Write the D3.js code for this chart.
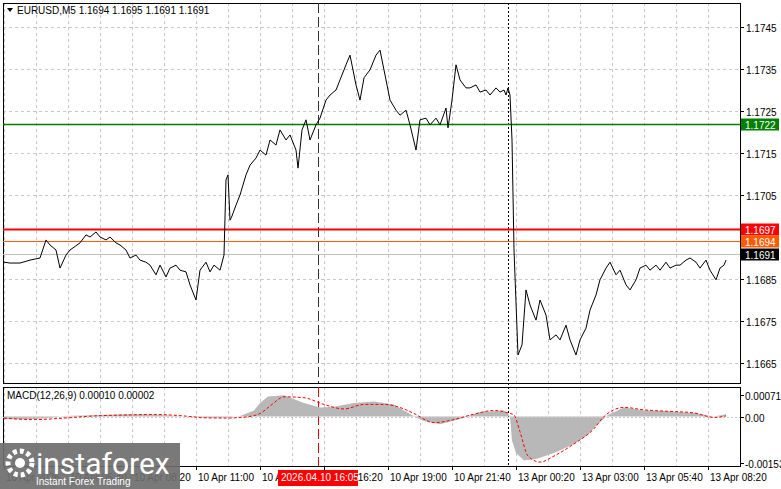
<!doctype html>
<html>
<head>
<meta charset="utf-8">
<script src="https://cdn.jsdelivr.net/npm/d3@7"></script>
<style>
  body { margin: 0; background: #fff; }
  svg text { font-family: "Liberation Sans", Arial, sans-serif; font-size: 10px; }
</style>
</head>
<body>
<svg id="chart" width="781" height="489"></svg>
<script>
// price path: bar index (5-min bars, 2px each) and price
var priceBars = [0,3,8,13,18,21,23,26,28,31,33,38,41,43,46,48,51,53,56,58,61,63,66,68,71,73,76,78,81,83,86,88,91,93,96,98,101,103,105,108,110,111,112,113,114,116,118,121,123,126,128,131,133,136,138,141,143,146,147,149,151,153,156,158,161,163,166,168,171,173,176,178,180,183,186,188,191,193,196,198,201,203,206,208,211,213,216,218,221,222,224,226,228,231,233,236,238,241,243,246,248,250,251,252,253,254,255,257,259,261,263,266,268,271,273,276,278,281,283,286,288,291,293,296,298,301,303,306,308,311,313,316,318,321,323,326,328,331,333,336,338,341,343,346,348,351,353,356,358,360,361];
var priceVals = [1.16890,1.16888,1.16888,1.16895,1.16900,1.16943,1.16931,1.16919,1.16876,1.16907,1.16919,1.16936,1.16955,1.16950,1.16962,1.16950,1.16943,1.16950,1.16936,1.16931,1.16919,1.16900,1.16907,1.16895,1.16890,1.16883,1.16860,1.16883,1.16855,1.16876,1.16883,1.16871,1.16867,1.16836,1.16800,1.16871,1.16890,1.16867,1.16883,1.16871,1.16907,1.17086,1.17098,1.16990,1.17000,1.17026,1.17050,1.17098,1.17121,1.17138,1.17157,1.17145,1.17181,1.17169,1.17205,1.17181,1.17193,1.17157,1.17114,1.17205,1.17229,1.17181,1.17217,1.17233,1.17276,1.17288,1.17300,1.17324,1.17360,1.17383,1.17312,1.17276,1.17329,1.17348,1.17383,1.17395,1.17324,1.17276,1.17252,1.17240,1.17252,1.17217,1.17157,1.17229,1.17233,1.17217,1.17233,1.17217,1.17257,1.17210,1.17276,1.17360,1.17324,1.17305,1.17305,1.17312,1.17295,1.17300,1.17288,1.17305,1.17295,1.17300,1.17288,1.17305,1.17288,1.17181,1.16919,1.16669,1.16693,1.16824,1.16788,1.16752,1.16800,1.16764,1.16705,1.16717,1.16705,1.16740,1.16705,1.16669,1.16705,1.16733,1.16776,1.16812,1.16848,1.16876,1.16890,1.16860,1.16871,1.16836,1.16824,1.16848,1.16876,1.16883,1.16871,1.16883,1.16871,1.16890,1.16876,1.16883,1.16883,1.16895,1.16900,1.16890,1.16876,1.16895,1.16871,1.16848,1.16876,1.16883,1.16895,1.16950,1.16910];

var priceTicks = [1.1745,1.1735,1.1725,1.1715,1.1705,1.1685,1.1675,1.1665];
var levels = [
  {v: 1.1722, color: "#008000", w: 1.5, label: "1.1722"},
  {v: 1.1697, color: "#ff0000", w: 2, label: "1.1697"},
  {v: 1.1694, color: "#ff5a00", w: 1.2, label: "1.1694"},
  {v: 1.1691, color: "#c0c0c0", w: 1, label: "1.1691", box: "#000"}
];

// MACD histogram and signal, same bar index
var macdBars = [0,10,20,30,45,60,75,90,100,108,112,118,125,128,132,140,150,158,165,175,185,195,200,205,210,218,228,238,250,252,253,254,256,260,266,275,285,292,296,302,310,320,330,345,355,361];
var macdHist = [-0.00008,-0.00010,-0.00006,0.00002,0.00004,0.00008,0.00007,0.00000,-0.00003,-0.00004,-0.00002,0.00002,0.00020,0.00045,0.00066,0.00070,0.00045,0.00030,0.00032,0.00045,0.00050,0.00040,0.00020,0.00000,-0.00015,-0.00025,-0.00008,0.00015,0.00020,0.00010,0.00000,-0.00080,-0.00120,-0.00145,-0.00140,-0.00120,-0.00090,-0.00060,-0.00030,0.00005,0.00030,0.00020,0.00018,0.00012,0.00000,0.00008];
var signalBars = [0,15,30,45,60,75,90,100,110,120,128,134,140,150,160,170,180,190,200,205,215,225,235,245,252,255,258,262,268,275,285,295,300,310,320,330,345,355,361];
var signalVals = [-0.00005,-0.00010,-0.00005,0.00002,0.00005,0.00007,0.00002,-0.00004,-0.00005,-0.00002,0.00010,0.00040,0.00065,0.00062,0.00040,0.00025,0.00040,0.00040,0.00025,0.00010,-0.00020,-0.00010,0.00008,0.00020,0.00012,0.00005,-0.00050,-0.00130,-0.00150,-0.00130,-0.00090,-0.00040,0.00000,0.00030,0.00022,0.00018,0.00012,-0.00003,0.00002];
var macdTicks = [0.00071, 0.00000, -0.00153];
var macdTickLabels = ["0.00071", "0.00", "-0.00153"];

var timeLabels = ["10 Apr 2026","10 Apr 05:40","10 Apr 08:20","10 Apr 11:00","10 Apr 13:40","10 Apr 16:20","10 Apr 19:00","10 Apr 21:40","13 Apr 00:20","13 Apr 03:00","13 Apr 05:40","13 Apr 08:20"];

var svg = d3.select("#chart");
var L = 3, R = 740, T = 3, B = 383, MT = 387, MB = 466;

var x = d3.scaleLinear().domain([0, 1]).range([L + 1, L + 3]);
var y = d3.scaleLinear().domain([1.1745, 1.1665]).range([27, 363]);
var ym = d3.scaleLinear().domain([0.00071, -0.00153]).range([395, 463]);

// grids
var gx = d3.range(0, 24).map(function(i) { return 4 + i * 32; }).filter(function(v) { return v < R; });
[[T, B], [MT, MB]].forEach(function(p) {
  svg.append("g").selectAll("line").data(gx).join("line")
    .attr("x1", function(d) { return d + 0.5; }).attr("x2", function(d) { return d + 0.5; })
    .attr("y1", p[0]).attr("y2", p[1])
    .attr("stroke", "#c8c8c8").attr("stroke-dasharray", "3,3");
});
svg.append("g").selectAll("line").data(priceTicks).join("line")
  .attr("x1", L).attr("x2", R)
  .attr("y1", function(d) { return Math.round(y(d)) + 0.5; }).attr("y2", function(d) { return Math.round(y(d)) + 0.5; })
  .attr("stroke", "#c8c8c8").attr("stroke-dasharray", "3,3");

// frames
svg.append("rect").attr("x", L + 0.5).attr("y", T + 0.5).attr("width", R - L).attr("height", B - T).attr("fill", "none").attr("stroke", "#000");
svg.append("rect").attr("x", L + 0.5).attr("y", MT + 0.5).attr("width", R - L).attr("height", MB - MT).attr("fill", "none").attr("stroke", "#000");

// price ticks
svg.append("g").selectAll("g").data(priceTicks).join("g").each(function(d) {
  var g = d3.select(this), yy = Math.round(y(d)) + 0.5;
  g.append("line").attr("x1", R).attr("x2", R + 4).attr("y1", yy).attr("y2", yy).attr("stroke", "#000");
  g.append("text").attr("x", R + 6).attr("y", yy + 4).text(d.toFixed(4));
});

// vertical markers
svg.append("line").attr("x1", 318.5).attr("x2", 318.5).attr("y1", T).attr("y2", B).attr("stroke", "#333").attr("stroke-dasharray", "10,4");
svg.append("line").attr("x1", 318.5).attr("x2", 318.5).attr("y1", MT).attr("y2", MB).attr("stroke", "#e00").attr("stroke-dasharray", "10,4");
svg.append("line").attr("x1", 508.5).attr("x2", 508.5).attr("y1", T).attr("y2", MB).attr("stroke", "#000").attr("stroke-dasharray", "2,2");

// levels
levels.forEach(function(l) {
  var yy = Math.round(y(l.v)) + 0.5;
  svg.append("line").attr("x1", L).attr("x2", R).attr("y1", yy).attr("y2", yy).attr("stroke", l.color).attr("stroke-width", l.w);
  svg.append("rect").attr("x", R + 1).attr("y", yy - 6).attr("width", 38).attr("height", 12).attr("fill", l.box || l.color);
  svg.append("text").attr("x", R + 5).attr("y", yy + 4).attr("fill", "#fff").text(l.label);
});

// price line
var pts = priceBars.map(function(b, i) { return [x(b), y(priceVals[i])]; });
svg.append("path").attr("d", d3.line()(pts)).attr("fill", "none").attr("stroke", "#000").attr("stroke-width", 1);

// macd
var mpts = macdBars.map(function(b, i) { return [x(b), macdHist[i]]; });
svg.append("path").attr("fill", "#b8b8b8")
  .attr("d", d3.area().x(function(d) { return d[0]; }).y0(ym(0)).y1(function(d) { return ym(d[1]); })(mpts));
svg.append("line").attr("x1", L).attr("x2", R).attr("y1", Math.round(ym(0)) + 0.5).attr("y2", Math.round(ym(0)) + 0.5).attr("stroke", "#c8c8c8").attr("stroke-dasharray", "2,2");
var spts = signalBars.map(function(b, i) { return [x(b), ym(signalVals[i])]; });
svg.append("path").attr("d", d3.line().curve(d3.curveMonotoneX)(spts)).attr("fill", "none").attr("stroke", "#ff0000").attr("stroke-dasharray", "3,2");
macdTicks.forEach(function(d, i) {
  var yy = Math.round(ym(d)) + 0.5;
  svg.append("line").attr("x1", R).attr("x2", R + 4).attr("y1", yy).attr("y2", yy).attr("stroke", "#000");
  svg.append("text").attr("x", R + 5).attr("y", yy + 4).text(macdTickLabels[i]);
});
svg.append("text").attr("x", 7).attr("y", 399).text("MACD(12,26,9) 0.00010 0.00002");

// time axis
timeLabels.forEach(function(t, i) {
  var xx = 4 + i * 64;
  svg.append("line").attr("x1", xx + 0.5).attr("x2", xx + 0.5).attr("y1", MB).attr("y2", MB + 4).attr("stroke", "#000");
  svg.append("text").attr("x", xx + 2).attr("y", 481).text(t);
});
svg.append("rect").attr("x", 278).attr("y", 470).attr("width", 80).attr("height", 16).attr("fill", "#ff0000");
svg.append("text").attr("x", 281).attr("y", 481).attr("fill", "#fff").text("2026.04.10 16:05");

// header
svg.append("path").attr("d", "M7,8 L13,8 L10,12 Z").attr("fill", "#000");
svg.append("text").attr("x", 17).attr("y", 14).text("EURUSD,M5  1.1694 1.1695 1.1691 1.1691");

// logo
svg.append("rect").attr("x", 0).attr("y", 443).attr("width", 180).attr("height", 46).attr("fill", "#6e6e6e").attr("opacity", 0.92);
svg.append("circle").attr("cx", 20).attr("cy", 463).attr("r", 12).attr("fill", "none").attr("stroke", "#fff").attr("stroke-width", 5).attr("stroke-dasharray", "4,3");
svg.append("circle").attr("cx", 20).attr("cy", 463).attr("r", 5).attr("fill", "#fff");
svg.append("text").attr("x", 36).attr("y", 474).attr("fill", "#fff").style("font-size", "30px").style("font-family", "Roboto, sans-serif").text("instaforex");
svg.append("text").attr("x", 36).attr("y", 485).attr("fill", "#fff").style("font-size", "10px").text("Instant Forex Trading");
</script>
</body>
</html>
